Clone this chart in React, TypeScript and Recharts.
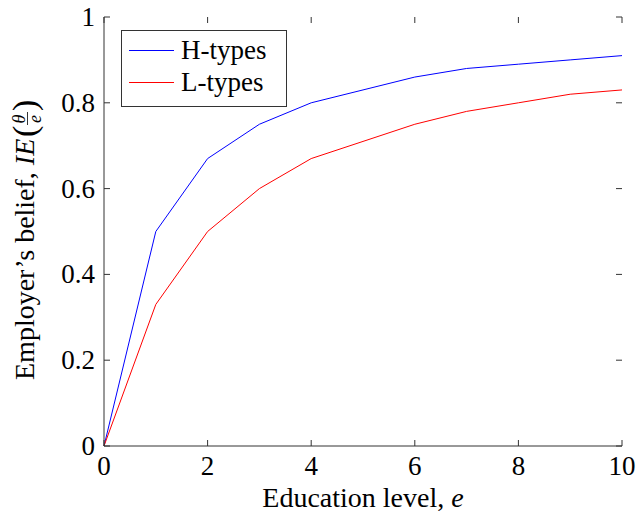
import React from 'react';
import { LineChart, Line, XAxis, YAxis, Legend } from 'recharts';

const educationLevels = [0, 1, 2, 3, 4, 5, 6, 7, 8, 9, 10];
const hTypes = [0, 0.5, 0.67, 0.75, 0.8, 0.83, 0.86, 0.88, 0.89, 0.9, 0.91];
const lTypes = [0, 0.33, 0.5, 0.6, 0.67, 0.71, 0.75, 0.78, 0.8, 0.82, 0.83];
const xTicks = [0, 2, 4, 6, 8, 10];
const yTicks = [0, 0.2, 0.4, 0.6, 0.8, 1];

const seriesInfo = [
  { key: 'h', name: 'H-types', color: '#0000ff' },
  { key: 'l', name: 'L-types', color: '#ff0000' },
];

const data = educationLevels.map((e, i) => ({ e, h: hTypes[i], l: lTypes[i] }));

const W = 637;
const H = 518;
const LEFT = 104;
const RIGHT = 622;
const TOP = 17;
const BOTTOM = 446;
const FONT = '"Liberation Serif", serif';
const FS = 27;
const FRAME = '#333';

const XTick = ({ x, payload }: any) => (
  <g>
    <line x1={x} x2={x} y1={BOTTOM} y2={BOTTOM - 6} stroke={FRAME} />
    <line x1={x} x2={x} y1={TOP} y2={TOP + 6} stroke={FRAME} />
    <text x={x} y={475} textAnchor="middle" fontFamily={FONT} fontSize={FS} fill="#000">
      {payload.value}
    </text>
  </g>
);

const YTick = ({ y, payload }: any) => (
  <g>
    <line x1={LEFT} x2={LEFT + 6} y1={y} y2={y} stroke={FRAME} />
    <line x1={RIGHT} x2={RIGHT - 6} y1={y} y2={y} stroke={FRAME} />
    <text x={95} y={y} dy="0.33em" textAnchor="end" fontFamily={FONT} fontSize={FS} fill="#000">
      {payload.value}
    </text>
  </g>
);

const XLabel = () => (
  <text x={(LEFT + RIGHT) / 2} y={507} textAnchor="middle" fontFamily={FONT} fontSize={FS + 1} fill="#000">
    Education level, <tspan fontStyle="italic">e</tspan>
  </text>
);

// rotated y label, drawn from its start (bottom) upward
const YLabel = () => (
  <g transform="translate(34, 380) rotate(-90)" fontFamily={FONT} fill="#000">
    <text x={0} y={0} fontSize={28}>
      Employer’s belief, <tspan fontStyle="italic">IE</tspan>
    </text>
    <text x={243} y={2} fontSize={34}>(</text>
    <text x={261} y={-9} fontSize={18} fontStyle="italic" textAnchor="middle">θ</text>
    <line x1={255} x2={268} y1={-6.5} y2={-6.5} stroke="#000" strokeWidth={0.8} />
    <text x={261} y={7} fontSize={18} fontStyle="italic" textAnchor="middle">e</text>
    <text x={269} y={2} fontSize={34}>)</text>
  </g>
);

const LegendBox = () => (
  <div
    style={{
      border: '1px solid #333',
      background: '#fff',
      width: 164,
      height: 72,
      boxSizing: 'content-box',
      fontFamily: FONT,
      fontSize: FS,
      color: '#000',
      lineHeight: '32px',
      paddingTop: 3,
    }}
  >
    {seriesInfo.map((s) => (
      <div key={s.key} style={{ display: 'flex', alignItems: 'center', height: 32 }}>
        <span
          style={{ display: 'inline-block', width: 45, height: 0, borderTop: `1px solid ${s.color}`, marginLeft: 7, marginRight: 7 }}
        />
        <span>{s.name}</span>
      </div>
    ))}
  </div>
);

export default function App() {
  return (
    <div style={{ position: 'absolute', left: 0, top: 0, width: W, height: H, background: '#fff' }}>
      <LineChart width={W} height={H} data={data} margin={{ top: TOP, right: W - RIGHT, left: 0, bottom: 0 }}>
        <XAxis
          dataKey="e"
          type="number"
          domain={[0, 10]}
          ticks={xTicks}
          height={H - BOTTOM}
          tickLine={false}
          axisLine={{ stroke: FRAME }}
          tick={<XTick />}
          label={<XLabel />}
        />
        <XAxis
          xAxisId="top"
          orientation="top"
          dataKey="e"
          type="number"
          domain={[0, 10]}
          height={0}
          tick={false}
          tickLine={false}
          axisLine={{ stroke: FRAME }}
        />
        <YAxis
          type="number"
          domain={[0, 1]}
          ticks={yTicks}
          width={LEFT}
          tickLine={false}
          axisLine={{ stroke: FRAME }}
          tick={<YTick />}
          label={<YLabel />}
        />
        <YAxis
          yAxisId="right"
          orientation="right"
          type="number"
          domain={[0, 1]}
          width={0}
          tick={false}
          tickLine={false}
          axisLine={{ stroke: FRAME }}
        />
        <Legend
          layout="vertical"
          align="center"
          verticalAlign="middle"
          wrapperStyle={{ left: 121, top: 30, width: 'auto' }}
          content={<LegendBox />}
        />
        {seriesInfo.map((s) => (
          <Line
            key={s.key}
            dataKey={s.key}
            name={s.name}
            type="linear"
            stroke={s.color}
            strokeWidth={1}
            dot={false}
            isAnimationActive={false}
          />
        ))}
      </LineChart>
    </div>
  );
}
